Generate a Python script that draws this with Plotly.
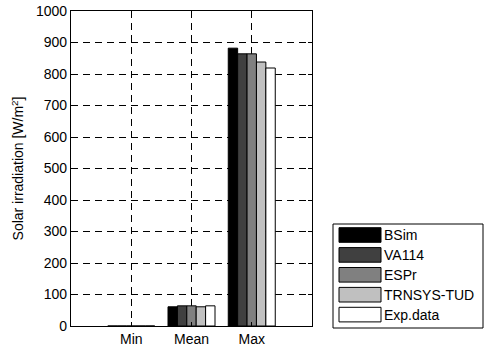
import plotly.graph_objects as go

# Data
categories = ["Min", "Mean", "Max"]
series_names = ["BSim", "VA114", "ESPr", "TRNSYS-TUD", "Exp.data"]
bsim = [0, 61, 882]
va114 = [0, 64, 864]
espr = [0, 64, 864]
trnsys_tud = [0, 61, 838]
exp_data = [0, 64, 819]
y_ticks = list(range(0, 1001, 100))

series_values = [bsim, va114, espr, trnsys_tud, exp_data]
fill_colors = ["#000000", "#404040", "#808080", "#c0c0c0", "#ffffff"]

W, H = 484, 350
L, R, T, B = 71, 172, 11, 24
PW, PH = W - L - R, H - T - B
FONT = "Liberation Sans, Arial, sans-serif"
FS = 14

x_pos = list(range(1, len(categories) + 1))

fig = go.Figure()
for name, vals, col in zip(series_names, series_values, fill_colors):
    fig.add_trace(go.Bar(
        x=x_pos, y=vals, name=name,
        marker=dict(color=col, line=dict(color="#000000", width=1)),
        showlegend=False,
    ))


def px_x(p):
    return (p - L) / PW


def px_y(p):
    return (H - B - p) / PH


# Legend box drawn as shapes + text
shapes = [dict(type="rect", xref="paper", yref="paper",
               x0=px_x(333), x1=px_x(483), y0=px_y(328), y1=px_y(224),
               line=dict(color="#000000", width=1), fillcolor="#ffffff")]
annotations = []
row_top, row_pitch, sw_h = 227.7, 19.9, 14.6
for i, (name, col) in enumerate(zip(series_names, fill_colors)):
    top = row_top + i * row_pitch
    shapes.append(dict(type="rect", xref="paper", yref="paper",
                       x0=px_x(339), x1=px_x(381), y0=px_y(top + sw_h), y1=px_y(top),
                       line=dict(color="#000000", width=1), fillcolor=col))
    annotations.append(dict(xref="paper", yref="paper", x=px_x(382), y=px_y(top + sw_h / 2),
                            xanchor="left", yanchor="middle", text=name, showarrow=False,
                            font=dict(family=FONT, size=FS, color="#000000")))

fig.update_layout(
    width=W, height=H,
    margin=dict(l=L, r=R, t=T, b=B, autoexpand=False),
    paper_bgcolor="#ffffff", plot_bgcolor="#ffffff",
    barmode="group", bargap=0.22, bargroupgap=0,
    font=dict(family=FONT, size=FS, color="#000000"),
    shapes=shapes, annotations=annotations,
    xaxis=dict(range=[0, 4], tickvals=x_pos, ticktext=categories,
               showgrid=True, gridcolor="#000000", gridwidth=1, griddash="7px,5px",
               showline=True, linecolor="#000000", linewidth=1.3, mirror="ticks",
               ticks="inside", ticklen=4, tickcolor="#000000", zeroline=False,
               tickfont=dict(family=FONT, size=FS)),
    yaxis=dict(range=[0, 1000], tickvals=y_ticks,
               showgrid=True, gridcolor="#000000", gridwidth=1, griddash="7px,5px",
               showline=True, linecolor="#000000", linewidth=1.3, mirror="ticks",
               ticks="inside", ticklen=4, tickcolor="#000000", zeroline=False,
               tickfont=dict(family=FONT, size=FS),
               title=dict(text="Solar irradiation [W/m<sup>2</sup>]", standoff=8,
                          font=dict(family=FONT, size=FS))),
)

fig.write_html("out.html")
